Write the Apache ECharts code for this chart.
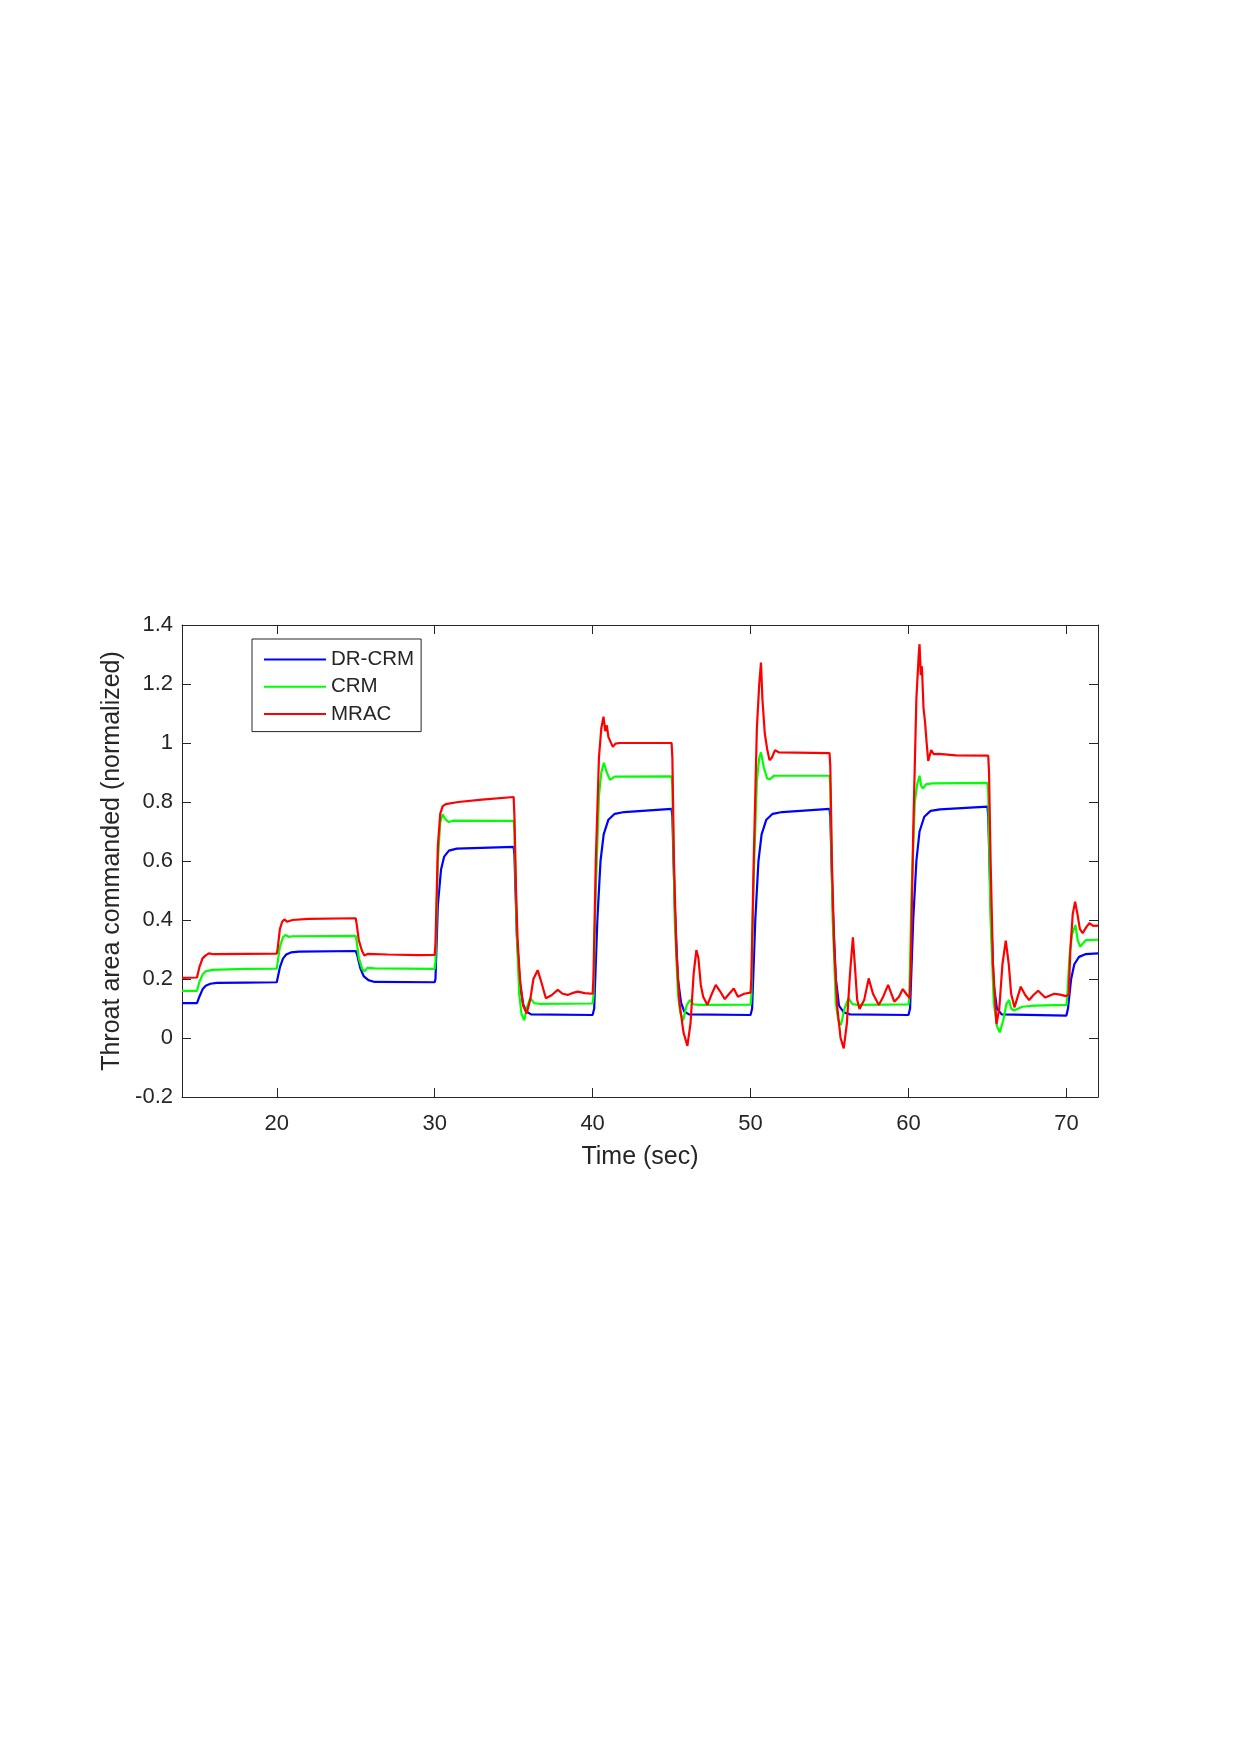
<!DOCTYPE html>
<html>
<head>
<meta charset="utf-8">
<title>Throat area commanded</title>
<script src="https://cdn.jsdelivr.net/npm/echarts@6/dist/echarts.min.js"></script>
<style>
    html, body { margin: 0; padding: 0; background: #fff; }
    #main { width: 1240px; height: 1755px; }
</style>
</head>
<body>
<div id="main"></div>
<script>
// tick labels
var xTicks = [20, 30, 40, 50, 60, 70];
var yTicks = [-0.2, 0, 0.2, 0.4, 0.6, 0.8, 1, 1.2, 1.4];
var seriesNames = ["DR-CRM", "CRM", "MRAC"];

// DR-CRM, [time, value]
var drcrmData = [
    [14, 0.118], [14.95, 0.118], [15.1, 0.14], [15.3, 0.165], [15.5, 0.177], [15.8, 0.184], [16.2, 0.187], [18, 0.188], [20.0, 0.189],
    [20.05, 0.19], [20.2, 0.24], [20.4, 0.27], [20.6, 0.283], [20.9, 0.29], [21.4, 0.293], [25.0, 0.295],
    [25.1, 0.28], [25.3, 0.235], [25.5, 0.21], [25.8, 0.196], [26.2, 0.19], [30.0, 0.189],
    [30.05, 0.2], [30.2, 0.45], [30.4, 0.57], [30.6, 0.615], [30.9, 0.635], [31.4, 0.642], [35.0, 0.648],
    [35.05, 0.62], [35.2, 0.35], [35.4, 0.18], [35.6, 0.115], [35.8, 0.09], [36.1, 0.08], [40.0, 0.078],
    [40.1, 0.1], [40.3, 0.4], [40.5, 0.6], [40.7, 0.69], [41.0, 0.74], [41.4, 0.76], [42, 0.766], [45.0, 0.777],
    [45.05, 0.75], [45.2, 0.45], [45.4, 0.2], [45.6, 0.12], [45.8, 0.09], [46.1, 0.08], [50.0, 0.078],
    [50.1, 0.1], [50.3, 0.4], [50.5, 0.6], [50.7, 0.69], [51.0, 0.74], [51.4, 0.76], [52, 0.766], [55.0, 0.777],
    [55.05, 0.75], [55.2, 0.45], [55.4, 0.2], [55.6, 0.11], [55.9, 0.087], [56.3, 0.08], [60.0, 0.078],
    [60.1, 0.1], [60.3, 0.4], [60.5, 0.6], [60.7, 0.7], [61.0, 0.75], [61.4, 0.77], [62, 0.775], [65.0, 0.784],
    [65.05, 0.75], [65.2, 0.45], [65.4, 0.18], [65.6, 0.1], [65.9, 0.08], [70.0, 0.076],
    [70.1, 0.1], [70.3, 0.2], [70.5, 0.25], [70.8, 0.275], [71.2, 0.284], [72, 0.287]
];

// CRM
var crmData = [
    [14, 0.16], [14.95, 0.16], [15.1, 0.19], [15.3, 0.215], [15.5, 0.226], [15.9, 0.231], [18, 0.234], [20, 0.235],
    [20.05, 0.24], [20.2, 0.31], [20.4, 0.342], [20.55, 0.349], [20.75, 0.343], [21.0, 0.345], [25.0, 0.346],
    [25.05, 0.33], [25.2, 0.27], [25.4, 0.235], [25.55, 0.226], [25.75, 0.238], [26.2, 0.236], [30.0, 0.234],
    [30.05, 0.26], [30.2, 0.6], [30.35, 0.73], [30.5, 0.758], [30.7, 0.74], [30.9, 0.732], [31.2, 0.737], [35.0, 0.736],
    [35.05, 0.7], [35.2, 0.35], [35.35, 0.15], [35.5, 0.08], [35.67, 0.06], [35.85, 0.105], [36.05, 0.135], [36.3, 0.118], [36.6, 0.116], [40.0, 0.117],
    [40.05, 0.14], [40.2, 0.5], [40.4, 0.82], [40.55, 0.9], [40.71, 0.933], [40.9, 0.9], [41.1, 0.875], [41.4, 0.886], [45.0, 0.887],
    [45.05, 0.85], [45.2, 0.4], [45.4, 0.15], [45.55, 0.085], [45.73, 0.059], [45.95, 0.11], [46.16, 0.129], [46.4, 0.114], [46.8, 0.112], [50.0, 0.113],
    [50.05, 0.14], [50.2, 0.55], [50.4, 0.87], [50.55, 0.95], [50.66, 0.968], [50.85, 0.915], [51.05, 0.88], [51.2, 0.877], [51.5, 0.889], [55.0, 0.889],
    [55.05, 0.85], [55.2, 0.4], [55.4, 0.12], [55.55, 0.06], [55.72, 0.044], [55.95, 0.1], [56.2, 0.135], [56.45, 0.115], [56.8, 0.112], [60.0, 0.114],
    [60.05, 0.14], [60.2, 0.5], [60.4, 0.8], [60.55, 0.86], [60.7, 0.889], [60.8, 0.855], [60.92, 0.846], [61.1, 0.86], [61.5, 0.863], [65.0, 0.865],
    [65.05, 0.83], [65.2, 0.4], [65.4, 0.12], [65.6, 0.04], [65.78, 0.019], [66.0, 0.06], [66.2, 0.115], [66.37, 0.129], [66.5, 0.1], [66.68, 0.093], [67.2, 0.106], [68, 0.11], [70.0, 0.112],
    [70.05, 0.14], [70.2, 0.28], [70.35, 0.35], [70.57, 0.383], [70.72, 0.33], [70.87, 0.31], [71.25, 0.332], [72, 0.333]
];

// MRAC
var mracData = [
    [14, 0.204], [14.95, 0.205], [15.1, 0.24], [15.3, 0.27], [15.5, 0.28], [15.7, 0.287], [16.0, 0.284], [18, 0.285], [20.0, 0.286],
    [20.05, 0.3], [20.2, 0.37], [20.35, 0.395], [20.5, 0.402], [20.65, 0.394], [21, 0.4], [22, 0.404], [25.0, 0.406],
    [25.05, 0.39], [25.2, 0.33], [25.4, 0.295], [25.55, 0.28], [25.75, 0.285], [27, 0.283], [29, 0.281], [30.0, 0.282],
    [30.05, 0.32], [30.2, 0.65], [30.35, 0.76], [30.5, 0.785], [30.7, 0.793], [31.5, 0.8], [33, 0.808], [35.0, 0.817],
    [35.05, 0.75], [35.15, 0.5], [35.25, 0.33], [35.4, 0.2], [35.6, 0.11], [35.82, 0.083], [36.05, 0.13], [36.25, 0.2], [36.52, 0.23], [36.75, 0.19], [37.04, 0.135], [37.4, 0.145], [37.79, 0.163], [38.1, 0.15], [38.42, 0.146], [38.7, 0.152], [39.06, 0.157], [39.5, 0.152], [40.0, 0.15],
    [40.05, 0.2], [40.2, 0.6], [40.4, 0.95], [40.55, 1.05], [40.69, 1.089], [40.8, 1.04], [40.9, 1.06], [41.0, 1.02], [41.1, 1.015], [41.28, 0.987], [41.45, 0.998], [41.7, 1.0], [45.0, 1.0],
    [45.05, 0.95], [45.15, 0.6], [45.3, 0.3], [45.5, 0.12], [45.75, 0.02], [46.0, -0.027], [46.2, 0.05], [46.4, 0.22], [46.57, 0.298], [46.7, 0.27], [46.85, 0.18], [47.0, 0.14], [47.27, 0.112], [47.55, 0.15], [47.8, 0.18], [48.05, 0.16], [48.37, 0.132], [48.65, 0.15], [48.94, 0.168], [49.2, 0.14], [49.6, 0.15], [50.0, 0.154],
    [50.05, 0.2], [50.2, 0.6], [50.4, 1.05], [50.55, 1.2], [50.66, 1.273], [50.75, 1.15], [50.9, 1.033], [51.05, 0.98], [51.2, 0.942], [51.35, 0.95], [51.55, 0.976], [51.8, 0.968], [55.0, 0.966],
    [55.05, 0.92], [55.15, 0.6], [55.3, 0.3], [55.5, 0.1], [55.7, 0.0], [55.9, -0.035], [56.1, 0.05], [56.3, 0.22], [56.48, 0.341], [56.6, 0.25], [56.75, 0.13], [56.9, 0.098], [57.2, 0.13], [57.48, 0.202], [57.75, 0.15], [58.12, 0.112], [58.4, 0.14], [58.71, 0.18], [59.1, 0.123], [59.4, 0.14], [59.64, 0.166], [59.85, 0.15], [60.08, 0.135],
    [60.15, 0.25], [60.3, 0.7], [60.5, 1.15], [60.65, 1.3], [60.7, 1.335], [60.78, 1.23], [60.85, 1.26], [60.95, 1.12], [61.05, 1.07], [61.15, 1.0], [61.25, 0.939], [61.44, 0.976], [61.6, 0.962], [61.93, 0.963], [63, 0.958], [65.05, 0.957],
    [65.1, 0.9], [65.2, 0.6], [65.35, 0.25], [65.57, 0.047], [65.75, 0.1], [65.95, 0.25], [66.16, 0.33], [66.35, 0.25], [66.5, 0.15], [66.71, 0.104], [67.11, 0.174], [67.4, 0.145], [67.64, 0.129], [67.9, 0.145], [68.21, 0.16], [68.65, 0.137], [69.0, 0.145], [69.23, 0.15], [69.6, 0.147], [69.97, 0.142], [70.15, 0.148],
    [70.25, 0.3], [70.4, 0.42], [70.55, 0.462], [70.7, 0.42], [70.85, 0.37], [71.03, 0.355], [71.25, 0.375], [71.45, 0.389], [71.7, 0.38], [72, 0.381]
];

var axisColor = "#262626";
var fontName = "Liberation Sans, Arial, sans-serif";

function makeSeries(name, color, data) {
    return {
        name: name,
        type: "line",
        data: data,
        symbol: "none",
        showSymbol: false,
        color: color,
        lineStyle: { color: color, width: 2.2 },
        clip: true
    };
}

//坐标轴（四边框，刻度朝内）
function makeAxis(pos, min, max, ticks, extra) {
    var axis = {
        type: "value", min: min, max: max, position: pos,
        axisLine: { show: true, onZero: false, lineStyle: { color: axisColor, width: 1 } },
        axisTick: { show: true, inside: true, length: 9, customValues: ticks, lineStyle: { color: axisColor } },
        axisLabel: { show: false },
        splitLine: { show: false }
    };
    if (extra) {
        for (var k in extra) { axis[k] = extra[k]; }
    }
    return axis;
}

var myChart = echarts.init(document.getElementById("main"));

var option = {
    animation: false,
    backgroundColor: "#fff",
    textStyle: { fontFamily: fontName },
    grid: { left: 182, top: 625, width: 916, height: 472 },
    legend: {
        orient: "vertical",
        left: 252,
        top: 639,
        padding: [10, 7, 7, 12],
        icon: "rect",
        itemWidth: 62,
        itemHeight: 2,
        itemGap: 6.3,
        borderColor: axisColor,
        borderWidth: 1,
        backgroundColor: "#fff",
        textStyle: { fontSize: 20.5, color: axisColor, fontFamily: fontName },
        data: seriesNames
    },
    xAxis: [
        makeAxis("bottom", 14, 72, xTicks, {
            name: "Time (sec)", nameLocation: "middle", nameGap: 48,
            nameTextStyle: { fontSize: 25, color: axisColor, fontFamily: fontName },
            axisLabel: { customValues: xTicks, fontSize: 22, color: axisColor, margin: 16, fontFamily: fontName }
        }),
        makeAxis("top", 14, 72, xTicks)
    ],
    yAxis: [
        makeAxis("left", -0.2, 1.4, yTicks, {
            interval: 0.2,
            name: "Throat area commanded (normalized)", nameLocation: "middle", nameGap: 55,
            nameTextStyle: { fontSize: 25, color: axisColor, fontFamily: fontName },
            axisLabel: { customValues: yTicks, fontSize: 22, color: axisColor, margin: 9, fontFamily: fontName }
        }),
        makeAxis("right", -0.2, 1.4, yTicks, { interval: 0.2 })
    ],
    series: [
        makeSeries(seriesNames[0], "#0000ff", drcrmData),
        makeSeries(seriesNames[1], "#00ff00", crmData),
        makeSeries(seriesNames[2], "#ff0000", mracData)
    ]
};

myChart.setOption(option);
</script>
</body>
</html>
